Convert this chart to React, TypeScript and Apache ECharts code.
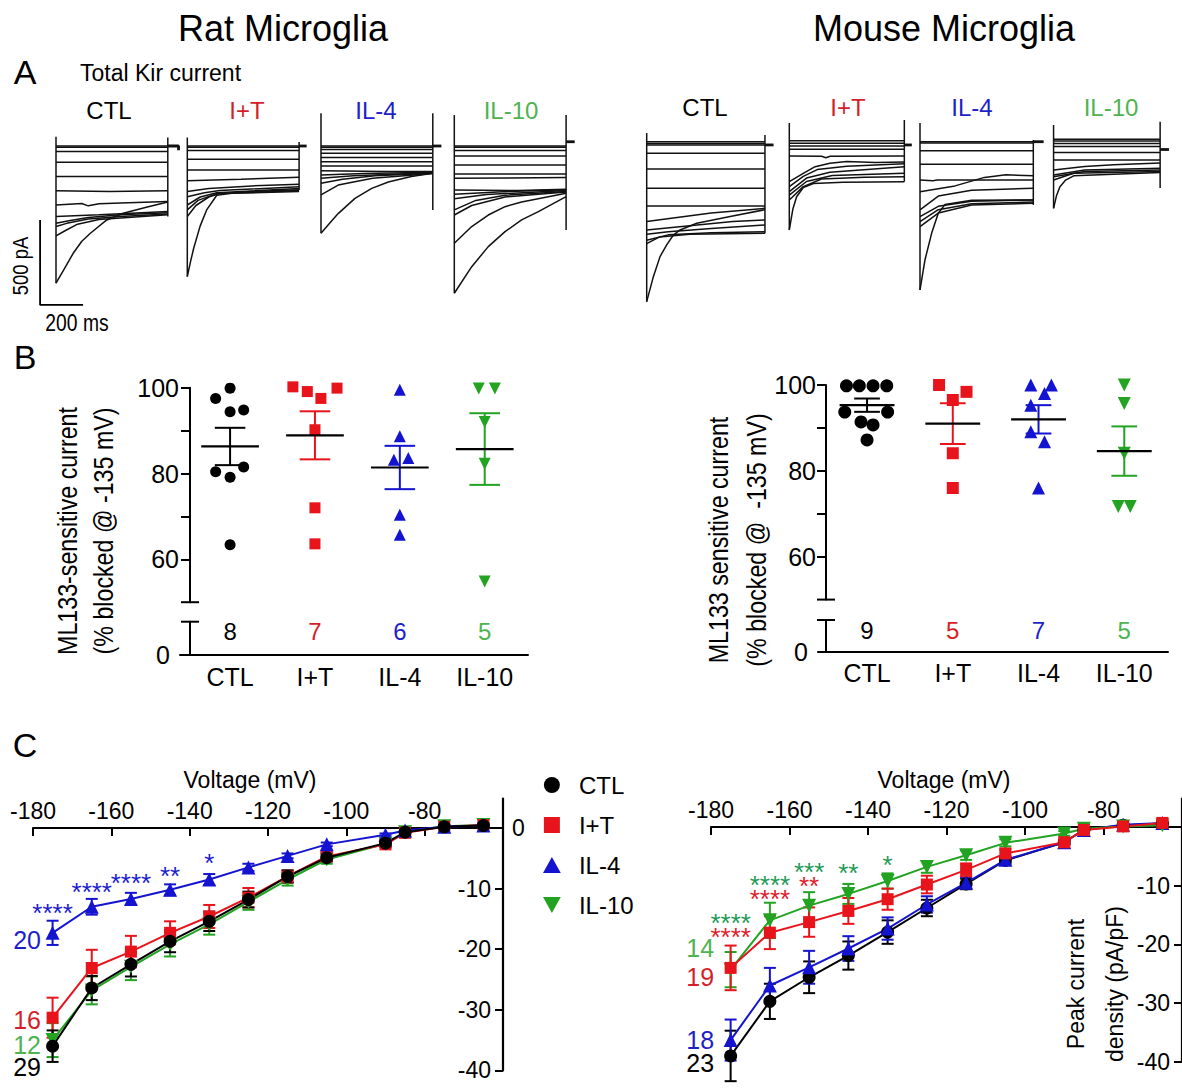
import React, { useEffect, useRef } from 'react';
import * as echarts from 'echarts';

const F = "'Liberation Sans', Arial, Helvetica, sans-serif";

const GROUPS = ['CTL', 'I+T', 'IL-4', 'IL-10'];
const COLORS = ['#000000', '#e8141c', '#1414d0', '#22a322'];
const TEXT_COLORS = ['#000000', '#d41f2a', '#1f1fc8', '#4fb34f'];
const STAR_GREEN = '#1f9a55';
const STAR_RED = '#e0202a';
const STAR_BLUE = '#1c1cd0';
const DOWN_TRI = 'path://M0,0L10,0L5,9Z';
const SYMBOLS = ['circle', 'rect', 'triangle', DOWN_TRI];
const LEGEND_ICONS = [
  'path://M5,0A5,5,0,1,1,5,10A5,5,0,1,1,5,0Z',
  'path://M0,0H10V10H0Z',
  'path://M5,0L10,9L0,9Z',
  DOWN_TRI,
];

// ---------- A: current traces (t in ms, I in pA) ----------
const ratTraceCTL = [
  [[0, 0], [520, 0]], [[0, -8], [520, -8]], [[0, -33], [520, -33]], [[0, -96], [520, -96]],
  [[0, -180], [520, -180]], [[0, -263], [250, -268], [520, -263]],
  [[0, -347], [120, -338], [150, -352], [200, -340], [300, -335], [520, -327]],
  [[0, -415], [200, -405], [520, -386]],
  [[0, -455], [60, -440], [150, -420], [300, -405], [520, -392]],
  [[0, -474], [50, -455], [150, -430], [300, -415], [520, -400]],
  [[0, -529], [40, -500], [100, -460], [200, -432], [520, -405]],
  [[0, -807], [40, -720], [80, -631], [120, -560], [160, -513], [236, -435], [313, -396], [420, -360], [520, -330]],
];
const ratEdgesCTL = [[[0, 55], [0, -807]], [[520, 50], [520, -415]], [[520, 0], [570, 0], [570, -25]]];

const ratTraceIT = [
  [[0, 0], [520, 0]], [[0, -8], [520, -8]], [[0, -27], [520, -27]], [[0, -78], [520, -78]],
  [[0, -141], [520, -141]], [[0, -204], [250, -195], [520, -184]],
  [[0, -268], [100, -250], [300, -235], [520, -225]],
  [[0, -298], [80, -275], [150, -262], [520, -240]],
  [[0, -347], [60, -300], [137, -275], [520, -250]],
  [[0, -376], [50, -320], [137, -280], [520, -262]],
  [[0, -415], [40, -350], [100, -300], [150, -280], [520, -268]],
  [[0, -768], [15, -680], [30, -600], [60, -470], [90, -376], [137, -290], [250, -270], [520, -258]],
];
const ratEdgesIT = [[[0, 50], [0, -768]], [[520, 24], [520, -259]], [[520, 0], [555, 0]]];

const ratTraceIL4 = [
  [[0, 0], [520, 0]], [[0, -8], [520, -8]], [[0, -20], [520, -20]], [[0, -43], [520, -43]],
  [[0, -67], [520, -67]], [[0, -92], [520, -92]], [[0, -118], [520, -118]],
  [[0, -145], [300, -150], [520, -150]],
  [[0, -170], [200, -162], [520, -155]],
  [[0, -190], [150, -175], [520, -158]],
  [[0, -219], [100, -195], [250, -175], [520, -160]],
  [[0, -288], [80, -230], [240, -190], [520, -162]],
  [[0, -513], [40, -455], [81, -396], [158, -308], [236, -249], [313, -212], [420, -180], [520, -160]],
];
const ratEdgesIL4 = [[[0, 192], [0, -513]], [[520, 192], [520, -376]], [[520, 0], [560, 0]]];

const ratTraceIL10 = [
  [[0, 0], [520, 0]], [[0, -8], [520, -8]], [[0, -27], [520, -27]], [[0, -59], [520, -59]],
  [[0, -112], [520, -112]], [[0, -165], [520, -165]], [[0, -190], [520, -186]],
  [[0, -259], [300, -262], [520, -255]],
  [[0, -284], [200, -270], [520, -258]],
  [[0, -310], [150, -285], [520, -262]],
  [[0, -376], [100, -320], [236, -290], [520, -268]],
  [[0, -406], [81, -350], [236, -300], [520, -270]],
  [[0, -572], [81, -474], [158, -406], [236, -357], [313, -329], [520, -278]],
  [[0, -866], [81, -710], [158, -592], [236, -504], [313, -435], [391, -386], [520, -298]],
];
const ratEdgesIL10 = [[[0, 182], [0, -866]], [[520, 182], [520, -494]], [[520, 25], [560, 25]]];

const mouseTraceCTL = [
  [[0, 0], [550, 0]], [[0, -10], [550, -10]], [[0, -19], [550, -19]], [[0, -68], [550, -68]],
  [[0, -160], [550, -160]], [[0, -274], [550, -274]], [[0, -378], [550, -378]],
  [[0, -470], [150, -445], [300, -420], [550, -392]],
  [[0, -520], [200, -495], [400, -470], [550, -460]],
  [[0, -545], [100, -530], [300, -510], [550, -490]],
  [[0, -580], [100, -548], [300, -535], [550, -530]],
  [[0, -600], [60, -560], [200, -545], [550, -539]],
  [[0, -941], [31, -794], [62, -676], [93, -607], [124, -549], [155, -519], [233, -480], [388, -440], [550, -400]],
];
const mouseEdgesCTL = [[[0, 51], [0, -941]], [[550, 40], [550, -539]], [[550, -19], [590, -19]]];

const mouseTraceIT = [
  [[0, 0], [535, 0]], [[0, -15], [535, -15]], [[0, -31], [535, -31]], [[0, -50], [535, -50]],
  [[0, -90], [150, -92], [170, -100], [190, -92], [535, -90]],
  [[0, -241], [65, -192], [120, -153], [189, -133], [267, -123], [400, -128], [535, -125]],
  [[0, -270], [65, -210], [130, -170], [267, -150], [535, -135]],
  [[0, -300], [80, -220], [189, -185], [535, -153]],
  [[0, -320], [80, -240], [200, -205], [535, -192]],
  [[0, -349], [65, -270], [150, -225], [350, -215], [535, -212]],
  [[0, -525], [17, -400], [34, -330], [65, -275], [112, -252], [250, -245], [535, -241]],
];
const mouseEdgesIT = [[[0, 104], [0, -525]], [[535, 122], [535, -241]], [[535, -25], [570, -25]]];

const mouseTraceIL4 = [
  [[0, 0], [527, 0]], [[0, -8], [527, -8]], [[0, -53], [527, -53]], [[0, -133], [527, -133]],
  [[0, -225], [60, -230], [80, -225], [527, -225]],
  [[0, -294], [163, -260], [300, -210], [400, -195], [527, -200]],
  [[0, -401], [85, -320], [240, -285], [527, -274]],
  [[0, -441], [85, -380], [240, -350], [527, -343]],
  [[0, -470], [85, -400], [240, -365], [527, -355]],
  [[0, -500], [85, -420], [240, -372], [527, -362]],
  [[0, -872], [23, -696], [54, -539], [85, -421], [116, -370], [240, -345], [527, -343]],
];
const mouseEdgesIL4 = [[[0, 110], [0, -872]], [[527, 10], [527, -372]], [[527, 0], [575, 0]]];

const mouseTraceIL10 = [
  [[0, 0], [531, 0]], [[0, -10], [531, -10]], [[0, -24], [531, -24]], [[0, -43], [531, -43]],
  [[0, -78], [531, -78]], [[0, -122], [531, -122]],
  [[0, -180], [155, -160], [300, -150], [531, -140]],
  [[0, -210], [155, -180], [531, -170]],
  [[0, -220], [155, -190], [531, -180]],
  [[0, -239], [100, -200], [531, -190]],
  [[0, -406], [15, -330], [31, -280], [60, -240], [100, -215], [531, -195]],
];
const mouseEdgesIL10 = [[[0, 84], [0, -406]], [[531, 103], [531, -287]], [[531, -60], [575, -60]]];

const scaleBarPA = 500;
const scaleBarMS = 200;
const scaleBarAnchor = [-74, -935];

// ---------- B: ML133-sensitive current (%) ----------
const ratB_CTL = [99.9, 97.5, 94.8, 94.4, 81.5, 80.4, 79.1, 63.4];
const ratB_IT = [100.2, 99.1, 97.5, 99.9, 90.2, 72.0, 63.6];
const ratB_IL4 = [99.5, 88.7, 83.6, 83.2, 70.4, 65.7];
const ratB_IL10 = [99.8, 99.8, 92.0, 82.3, 54.8];
const ratB_jitter = [
  [0, -0.17, 0.16, 0, 0.16, -0.17, 0, 0],
  [-0.26, -0.09, 0.07, 0.26, 0, 0, 0],
  [0, 0, 0.1, -0.07, 0, 0],
  [-0.07, 0.12, 0, 0, 0],
];
const ratB_mean = [86.3, 88.9, 81.4, 85.7];
const ratB_sem = [4.35, 5.6, 5.05, 8.35];
const ratB_n = [8, 7, 6, 5];

const mouseB_CTL = [99.8, 99.8, 99.8, 99.8, 93.7, 93.7, 91.4, 90.7, 87.2];
const mouseB_IT = [100, 98.4, 96.5, 84.1, 76.0];
const mouseB_IL4 = [100, 100, 98, 95.3, 89.1, 86.8, 76];
const mouseB_IL10 = [100, 95.7, 84.1, 71.7, 71.7];
const mouseB_jitter = [
  [-0.24, -0.09, 0.07, 0.23, -0.26, 0.24, -0.07, 0.07, 0],
  [-0.16, 0.16, 0, 0, 0],
  [-0.09, 0.15, 0.07, -0.09, -0.09, 0.07, 0],
  [0, 0, 0, -0.07, 0.07],
];
const mouseB_mean = [95.3, 91.0, 92.0, 84.6];
const mouseB_sem = [1.55, 4.75, 3.3, 5.75];
const mouseB_n = [9, 5, 7, 5];

const bTicks = [60, 70, 80, 90, 100];
const bLabels = [60, 80, 100];

// ---------- C: I-V curves ----------
const voltages = [-175, -165, -155, -145, -135, -125, -115, -105, -90, -85, -75, -65];
const ratC_CTL = [-36.0, -26.4, -22.5, -18.7, -15.4, -11.8, -8.0, -4.9, -2.5, -0.7, 0.2, 0.4];
const ratC_IT = [-31.3, -23.1, -20.4, -17.3, -14.6, -11.5, -8.0, -4.7, -2.7, -0.8, 0.2, 0.5];
const ratC_IL4 = [-17.3, -13.0, -11.7, -10.2, -8.5, -6.5, -4.6, -2.7, -1.1, -0.4, 0.2, 0.4];
const ratC_IL10 = [-35.0, -26.8, -22.9, -19.2, -15.9, -12.2, -8.5, -5.2, -2.6, -0.7, 0.3, 0.5];
const ratC_semCTL = [2.6, 2.0, 2.0, 1.8, 1.6, 1.3, 1.0, 0.6, 0.5, 0.3, 0.2, 0.2];
const ratC_semIT = [3.3, 3.0, 2.6, 1.9, 1.9, 1.6, 1.0, 0.7, 0.5, 0.3, 0.2, 0.2];
const ratC_semIL4 = [2.0, 1.3, 1.0, 0.9, 0.9, 0.6, 0.4, 0.3, 0.2, 0.2, 0.1, 0.1];
const ratC_semIL10 = [2.8, 2.3, 2.2, 2.0, 1.7, 1.3, 1.0, 0.7, 0.5, 0.3, 0.2, 0.2];

const mouseC_CTL = [-39.0, -29.7, -25.6, -21.9, -17.9, -13.8, -9.7, -5.7, -2.6, -0.5, 0.3, 0.6];
const mouseC_IT = [-24.0, -18.0, -16.2, -14.3, -12.3, -9.8, -7.3, -4.5, -2.6, -0.5, 0.1, 0.7];
const mouseC_IL4 = [-36.3, -27.0, -23.9, -20.7, -17.3, -13.2, -9.5, -5.6, -2.6, -0.5, 0.4, 0.7];
const mouseC_IL10 = [-24.3, -15.9, -13.4, -11.4, -9.2, -6.8, -4.8, -2.7, -1.1, -0.3, 0.1, 0.3];
const mouseC_semCTL = [4.3, 3.0, 2.7, 2.4, 2.0, 1.4, 0.9, 0.6, 0.4, 0.3, 0.2, 0.2];
const mouseC_semIT = [3.8, 2.8, 2.5, 2.2, 1.8, 1.5, 1.1, 0.7, 0.4, 0.3, 0.2, 0.2];
const mouseC_semIL4 = [3.5, 3.0, 2.8, 2.1, 1.9, 1.4, 0.9, 0.6, 0.4, 0.3, 0.2, 0.2];
const mouseC_semIL10 = [3.0, 3.0, 2.3, 1.7, 1.3, 1.0, 0.8, 0.6, 0.4, 0.3, 0.2, 0.2];

const cXTicks = [-180, -160, -140, -120, -100, -80];
const cYTicks = [-10, -20, -30, -40];
const cYTop = 5;

// significance stars (vs CTL)
const ratStarX = [-175, -165, -155, -145, -135];
const ratStarY = [-14.0, -10.5, -9.0, -7.9, -5.7];
const ratStarText = ['****', '****', '****', '**', '*'];
const mouseStarX = [-175, -165, -155, -145, -135];
const mouseStarY = [-17.5, -11.0, -8.9, -7.9, -6.5];
const mouseStarGreenText = ['****', '****', '***', '**', '*'];
const mouseStarRedText = ['****', '****', '**', '', ''];

const ratCountText = ['20', '16', '12', '29'];
const ratCountY = [-18.5, -31.7, -35.8, -39.4];
const ratCountColor = [TEXT_COLORS[2], TEXT_COLORS[1], TEXT_COLORS[3], TEXT_COLORS[0]];
const ratCountX = -181.5;
const mouseCountText = ['14', '19', '18', '23'];
const mouseCountY = [-20.6, -25.6, -36.3, -40.2];
const mouseCountColor = [TEXT_COLORS[3], TEXT_COLORS[1], TEXT_COLORS[2], TEXT_COLORS[0]];
const mouseCountX = -182.75;

// ---------- layout ----------
const MS_PX = 0.215;
const PA_PX = 0.17;
const T_MIN = -100, T_MAX = 640, I_MIN = -1000, I_MAX = 250;
const tracePanels = [
  { traces: ratTraceCTL, edges: ratEdgesCTL, x0: 56, base: 146 },
  { traces: ratTraceIT, edges: ratEdgesIT, x0: 187.3, base: 146 },
  { traces: ratTraceIL4, edges: ratEdgesIL4, x0: 321, base: 146 },
  { traces: ratTraceIL10, edges: ratEdgesIL10, x0: 454.3, base: 146 },
  { traces: mouseTraceCTL, edges: mouseEdgesCTL, x0: 646.7, base: 141.7 },
  { traces: mouseTraceIT, edges: mouseEdgesIT, x0: 789.3, base: 140.7 },
  { traces: mouseTraceIL4, edges: mouseEdgesIL4, x0: 920, base: 141.7 },
  { traces: mouseTraceIL10, edges: mouseEdgesIL10, x0: 1055, base: 139.3 },
];
const TRANSPARENT = 'rgba(0,0,0,0)';

function errRender(color: string, cap: number) {
  return (params: any, api: any) => {
    const x = api.value(0), m = api.value(1), s = api.value(2);
    const a = api.coord([x, m + s]);
    const b = api.coord([x, m - s]);
    const st = { stroke: color, lineWidth: 2 };
    return {
      type: 'group',
      children: [
        { type: 'line', shape: { x1: a[0], y1: a[1], x2: b[0], y2: b[1] }, style: st },
        { type: 'line', shape: { x1: a[0] - cap, y1: a[1], x2: a[0] + cap, y2: a[1] }, style: st },
        { type: 'line', shape: { x1: b[0] - cap, y1: b[1], x2: b[0] + cap, y2: b[1] }, style: st },
      ],
    };
  };
}

function meanSemRender(halfMean: number, halfCap: number) {
  return (params: any, api: any) => {
    const g = api.value(0), m = api.value(1), s = api.value(2);
    const c = api.coord([g, m]);
    const t = api.coord([g, m + s]);
    const b = api.coord([g, m - s]);
    const hm = api.size([halfMean, 0])[0];
    const hc = api.size([halfCap, 0])[0];
    const st = { stroke: COLORS[g], lineWidth: 2 };
    return {
      type: 'group',
      children: [
        { type: 'line', shape: { x1: t[0], y1: t[1], x2: b[0], y2: b[1] }, style: st },
        { type: 'line', shape: { x1: t[0] - hc, y1: t[1], x2: t[0] + hc, y2: t[1] }, style: st },
        { type: 'line', shape: { x1: b[0] - hc, y1: b[1], x2: b[0] + hc, y2: b[1] }, style: st },
        { type: 'line', shape: { x1: c[0] - hm, y1: c[1], x2: c[0] + hm, y2: c[1] }, style: { stroke: '#000', lineWidth: 2.2 } },
      ],
    };
  };
}

function buildOption() {
  const grid: any[] = [];
  const xAxis: any[] = [];
  const yAxis: any[] = [];
  const series: any[] = [];

  // ----- A -----
  tracePanels.forEach((p, i) => {
    grid.push({
      left: p.x0 + T_MIN * MS_PX,
      top: p.base - I_MAX * PA_PX,
      width: (T_MAX - T_MIN) * MS_PX,
      height: (I_MAX - I_MIN) * PA_PX,
    });
    xAxis.push({ type: 'value', gridIndex: i, min: T_MIN, max: T_MAX, show: false });
    yAxis.push({ type: 'value', gridIndex: i, min: I_MIN, max: I_MAX, show: false });
    p.traces.forEach((tr) => {
      series.push({
        type: 'line', xAxisIndex: i, yAxisIndex: i, data: tr, showSymbol: false, silent: true,
        clip: false, lineStyle: { color: '#111', width: 1.5 },
      });
    });
    p.edges.forEach((e, k) => {
      series.push({
        type: 'line', xAxisIndex: i, yAxisIndex: i, data: e, showSymbol: false, silent: true,
        clip: false, lineStyle: { color: '#111', width: k === 2 ? 2.8 : 1.5 },
      });
    });
  });
  series.push({
    type: 'line', xAxisIndex: 0, yAxisIndex: 0, showSymbol: false, silent: true, clip: false,
    data: [
      [scaleBarAnchor[0], scaleBarAnchor[1] + scaleBarPA],
      scaleBarAnchor,
      [scaleBarAnchor[0] + scaleBarMS, scaleBarAnchor[1]],
    ],
    lineStyle: { color: '#000', width: 1.8 },
  });

  // ----- B -----
  const bPanels = [
    {
      vals: [ratB_CTL, ratB_IT, ratB_IL4, ratB_IL10], jit: ratB_jitter, mean: ratB_mean, sem: ratB_sem, n: ratB_n,
      left: 180, width: 348, xmin: -0.59, xmax: 3.51, upTop: 387.7, upH: 214.5, loTop: 621.7, loH: 33.3,
      off: -10, halfMean: 0.34, halfCap: 0.18, sym: [11, 11, 12, 12], lblMargin: 11, zeroMargin: 20, nY: 7,
    },
    {
      vals: [mouseB_CTL, mouseB_IT, mouseB_IL4, mouseB_IL10], jit: mouseB_jitter, mean: mouseB_mean, sem: mouseB_sem, n: mouseB_n,
      left: 818, width: 350, xmin: -0.572, xmax: 3.51, upTop: 385, upH: 214.6, loTop: 620, loH: 31.7,
      off: -8, halfMean: 0.32, halfCap: 0.15, sym: [13, 12, 13, 13], lblMargin: 10, zeroMargin: 18, nY: 6.8,
    },
  ];
  bPanels.forEach((b) => {
    const gu = grid.length;
    grid.push({ left: b.left, top: b.upTop, width: b.width, height: b.upH });
    const gl = grid.length;
    grid.push({ left: b.left, top: b.loTop, width: b.width, height: b.loH });
    xAxis.push({ type: 'value', gridIndex: gu, min: b.xmin, max: b.xmax, show: false });
    yAxis.push({
      type: 'value', gridIndex: gu, min: 50, max: 100, offset: b.off,
      axisLine: { show: true, onZero: false, lineStyle: { color: '#000', width: 2 } },
      axisTick: { show: true, customValues: bTicks, length: 9, lineStyle: { width: 2, color: '#000' } },
      axisLabel: { customValues: bLabels, fontFamily: F, fontSize: 25, color: '#000', margin: b.lblMargin },
      splitLine: { show: false },
    });
    xAxis.push({
      type: 'value', gridIndex: gl, min: b.xmin, max: b.xmax,
      axisLine: { show: true, onZero: false, lineStyle: { color: '#000', width: 2 } },
      axisTick: { show: false },
      axisLabel: {
        customValues: [0, 1, 2, 3], formatter: (v: number) => GROUPS[Math.round(v)],
        fontFamily: F, fontSize: 25, color: '#000', margin: 9,
      },
      splitLine: { show: false },
    });
    yAxis.push({
      type: 'value', gridIndex: gl, min: 0, max: 10, offset: b.off,
      axisLine: { show: true, onZero: false, lineStyle: { color: '#000', width: 2 } },
      axisTick: { show: false },
      axisLabel: { customValues: [0], fontFamily: F, fontSize: 25, color: '#000', margin: b.zeroMargin },
      splitLine: { show: false },
    });
    const axisX = b.xmin + (b.xmax - b.xmin) * (-b.off) / b.width;
    const capHalf = 9 * (b.xmax - b.xmin) / b.width;
    series.push({
      type: 'line', xAxisIndex: gu, yAxisIndex: gu, showSymbol: false, silent: true, clip: false,
      data: [[axisX - capHalf, 50], [axisX + capHalf, 50]], lineStyle: { color: '#000', width: 2 },
    });
    series.push({
      type: 'line', xAxisIndex: gl, yAxisIndex: gl, showSymbol: false, silent: true, clip: false,
      data: [[axisX - capHalf, 10], [axisX + capHalf, 10]], lineStyle: { color: '#000', width: 2 },
    });
    b.vals.forEach((vs, g) => {
      series.push({
        type: 'scatter', xAxisIndex: gu, yAxisIndex: gu, silent: true, clip: false,
        symbol: SYMBOLS[g], symbolSize: b.sym[g],
        itemStyle: { color: COLORS[g], opacity: 1 },
        data: vs.map((v, k) => [g + b.jit[g][k], v]),
        z: 3,
      });
    });
    series.push({
      type: 'custom', xAxisIndex: gu, yAxisIndex: gu, silent: true, clip: false, z: 4,
      renderItem: meanSemRender(b.halfMean, b.halfCap),
      data: b.mean.map((m, g) => [g, m, b.sem[g]]),
    });
    series.push({
      type: 'scatter', xAxisIndex: gl, yAxisIndex: gl, silent: true, symbolSize: 1,
      itemStyle: { color: TRANSPARENT, opacity: 1 },
      data: b.n.map((n, g) => ({
        value: [g, b.nY], name: String(n),
        label: { color: TEXT_COLORS[g] },
      })),
      label: { show: true, position: 'inside', formatter: '{b}', fontFamily: F, fontSize: 24, opacity: 1 },
      z: 5,
    });
  });

  // ----- C -----
  const ratStarData = ratStarX.map((x, k) => ({ value: [x, ratStarY[k]], name: `{b|${ratStarText[k]}}` }));
  const mouseStarData = mouseStarX.map((x, k) => ({
    value: [x, mouseStarY[k]],
    name: `{g|${mouseStarGreenText[k]}}` + (mouseStarRedText[k] ? `\n{r|${mouseStarRedText[k]}}` : ''),
  }));
  const cPanels = [
    {
      left: 33, width: 470, top: 828, height: 242.4,
      groups: [
        { g: 3, v: ratC_IL10, s: ratC_semIL10 },
        { g: 1, v: ratC_IT, s: ratC_semIT },
        { g: 2, v: ratC_IL4, s: ratC_semIL4 },
        { g: 0, v: ratC_CTL, s: ratC_semCTL },
      ],
      stars: ratStarData,
      counts: { x: ratCountX, y: ratCountY, t: ratCountText, c: ratCountColor },
      zeroLabel: true,
    },
    {
      left: 711, width: 480, top: 827, height: 234.8,
      groups: [
        { g: 0, v: mouseC_CTL, s: mouseC_semCTL },
        { g: 2, v: mouseC_IL4, s: mouseC_semIL4 },
        { g: 3, v: mouseC_IL10, s: mouseC_semIL10 },
        { g: 1, v: mouseC_IT, s: mouseC_semIT },
      ],
      stars: mouseStarData,
      counts: { x: mouseCountX, y: mouseCountY, t: mouseCountText, c: mouseCountColor },
      zeroLabel: false,
    },
  ];
  const starRich = {
    b: { color: STAR_BLUE, fontFamily: F, fontSize: 26, lineHeight: 14 },
    g: { color: STAR_GREEN, fontFamily: F, fontSize: 26, lineHeight: 14 },
    r: { color: STAR_RED, fontFamily: F, fontSize: 26, lineHeight: 14 },
  };
  const symSizeC = [13, 12, 14, 14];
  cPanels.forEach((c) => {
    const gi = grid.length;
    grid.push({ left: c.left, top: c.top, width: c.width, height: c.height });
    xAxis.push({
      type: 'value', gridIndex: gi, position: 'top', min: -180, max: -60,
      axisLine: { show: true, onZero: false, lineStyle: { color: '#000', width: 2.2 } },
      axisTick: { show: true, inside: true, customValues: cXTicks, length: 8, lineStyle: { color: '#000', width: 2 } },
      axisLabel: { customValues: cXTicks, fontFamily: F, fontSize: 23, color: '#000', margin: 6 },
      splitLine: { show: false },
    });
    const yi = yAxis.length;
    yAxis.push({
      type: 'value', gridIndex: gi, position: 'right', min: -40, max: 0,
      axisLine: { show: true, onZero: false, lineStyle: { color: '#000', width: 2.2 } },
      axisTick: { show: true, inside: true, customValues: cYTicks, length: 8, lineStyle: { color: '#000', width: 2 } },
      axisLabel: { inside: true, customValues: cYTicks, fontFamily: F, fontSize: 23, color: '#000', margin: 12 },
      splitLine: { show: false },
    });
    if (c.zeroLabel) {
      yAxis.push({
        type: 'value', gridIndex: gi, position: 'right', min: -40, max: 0,
        axisLine: { show: false }, axisTick: { show: false },
        axisLabel: { customValues: [0], fontFamily: F, fontSize: 23, color: '#000', margin: 9 },
        splitLine: { show: false },
      });
    }
    series.push({
      type: 'line', xAxisIndex: gi, yAxisIndex: yi, showSymbol: false, silent: true, clip: false,
      data: [[-60, 0], [-60, cYTop]], lineStyle: { color: '#000', width: 2.2 },
    });
    c.groups.forEach((gr) => {
      series.push({
        type: 'custom', xAxisIndex: gi, yAxisIndex: yi, silent: true, clip: false,
        renderItem: errRender(COLORS[gr.g], 6),
        data: voltages.map((vv, k) => [vv, gr.v[k], gr.s[k]]),
        z: 2,
      });
      series.push({
        type: 'line', name: GROUPS[gr.g], xAxisIndex: gi, yAxisIndex: yi, silent: true, clip: false,
        symbol: SYMBOLS[gr.g], symbolSize: symSizeC[gr.g], showSymbol: true,
        itemStyle: { color: COLORS[gr.g] }, lineStyle: { color: COLORS[gr.g], width: 2 },
        data: voltages.map((vv, k) => [vv, gr.v[k]]),
        z: 2,
      });
    });
    series.push({
      type: 'scatter', xAxisIndex: gi, yAxisIndex: yi, silent: true, clip: false, symbolSize: 1,
      itemStyle: { color: TRANSPARENT, opacity: 1 },
      data: c.stars,
      label: {
        show: true, position: 'inside', formatter: '{b}', fontFamily: F, fontSize: 26,
        lineHeight: 14, opacity: 1, rich: starRich,
      },
      z: 5,
    });
    series.push({
      type: 'scatter', xAxisIndex: gi, yAxisIndex: yi, silent: true, clip: false, symbolSize: 1,
      itemStyle: { color: TRANSPARENT, opacity: 1 },
      data: c.counts.t.map((t, k) => ({ value: [c.counts.x, c.counts.y[k]], name: t, label: { color: c.counts.c[k] } })),
      label: { show: true, position: 'inside', formatter: '{b}', fontFamily: F, fontSize: 25, lineHeight: 22, opacity: 1 },
      z: 5,
    });
  });

  const txt = (text: string, x: number, y: number, size: number, color = '#000', extra: any = {}) => ({
    type: 'text', x, y, silent: true,
    style: { text, fill: color, fontFamily: F, fontSize: size, textAlign: 'center', textVerticalAlign: 'middle', ...extra },
  });

  const graphic = [
    txt('Rat Microglia', 283, 28, 36),
    txt('Mouse Microglia', 944, 28, 36),
    txt('A', 25, 72, 34),
    txt('Total Kir current', 80, 73, 23, '#000', { textAlign: 'left' }),
    txt('CTL', 109, 110, 24, TEXT_COLORS[0]),
    txt('I+T', 247, 110, 24, TEXT_COLORS[1]),
    txt('IL-4', 376, 110, 24, TEXT_COLORS[2]),
    txt('IL-10', 511, 110, 24, TEXT_COLORS[3]),
    txt('CTL', 705, 107, 24, TEXT_COLORS[0]),
    txt('I+T', 848, 107, 24, TEXT_COLORS[1]),
    txt('IL-4', 972, 107, 24, TEXT_COLORS[2]),
    txt('IL-10', 1111, 107, 24, TEXT_COLORS[3]),
    { ...txt('500 pA', 20, 266, 22), rotation: Math.PI / 2, scaleX: 0.84 },
    { ...txt('200 ms', 77, 323, 23), scaleX: 0.84 },
    txt('B', 25, 357, 34),
    txt('C', 25, 745, 34),
    {
      ...txt('ML133-sensitive current\n(% blocked @ -135 mV)', 85, 531, 28, '#000', { lineHeight: 36 }),
      rotation: Math.PI / 2, scaleX: 0.83,
    },
    {
      ...txt('ML133 sensitive current\n(% blocked @  -135 mV)', 737, 540, 28, '#000', { lineHeight: 38 }),
      rotation: Math.PI / 2, scaleX: 0.83,
    },
    txt('Voltage (mV)', 250, 780, 23),
    txt('Voltage (mV)', 944, 780, 23),
    {
      ...txt('Peak current\ndensity (pA/pF)', 1095, 984, 23, '#000', { lineHeight: 39 }),
      rotation: Math.PI / 2,
    },
  ];

  return {
    animation: false,
    backgroundColor: '#ffffff',
    textStyle: { fontFamily: F },
    grid, xAxis, yAxis, series, graphic,
    legend: {
      orient: 'vertical', left: 538, top: 768, itemGap: 16, itemWidth: 44, itemHeight: 16,
      selectedMode: false,
      textStyle: { fontFamily: F, fontSize: 24, color: '#000' },
      data: GROUPS.map((g, i) => ({ name: g, icon: LEGEND_ICONS[i] })),
    },
  };
}

export default function App() {
  const ref = useRef<HTMLDivElement>(null);
  useEffect(() => {
    document.body.style.margin = '0';
    if (!ref.current) return;
    const chart = echarts.init(ref.current, null, { renderer: 'svg' });
    chart.setOption(buildOption() as any);
    return () => chart.dispose();
  }, []);
  return <div ref={ref} style={{ width: 1182, height: 1089 }} />;
}
